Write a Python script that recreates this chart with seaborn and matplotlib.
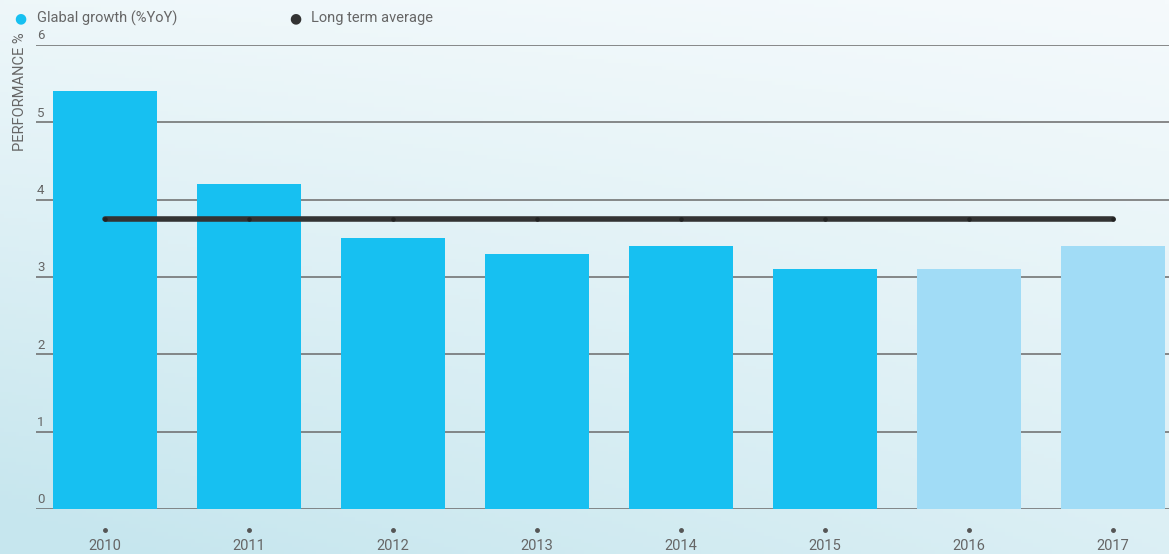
import numpy as np
import matplotlib
matplotlib.use("Agg")
import matplotlib.pyplot as plt
import seaborn as sns

years = ["2010", "2011", "2012", "2013", "2014", "2015", "2016", "2017"]
growth = [5.4, 4.2, 3.5, 3.3, 3.4, 3.1, 3.1, 3.4]
forecast = [False, False, False, False, False, False, True, True]
long_term_avg = 3.75
y_ticks = [0, 1, 2, 3, 4, 5, 6]

BLUE = "#17c0f1"
LIGHT = "#a1dcf6"
DARK = "#333333"
TXT = "#666666"

sns.set_theme(style="white")
plt.rcParams["font.family"] = ["Roboto", "DejaVu Sans"]

fig = plt.figure(figsize=(11.69, 5.54), dpi=100)

# background gradient
bg = fig.add_axes([0, 0, 1, 1], zorder=-10)
gx = np.linspace(0, 1, 300)
gy = np.linspace(0, 1, 150)
X, Y = np.meshgrid(gx, gy)
t = np.clip(0.55 * (1 - Y) + 0.35 * (1 - X) * (1 - Y) + 0.15 * (1 - X), 0, 1)
c1 = np.array([0xf5, 0xfa, 0xfc]) / 255
c2 = np.array([0xc6, 0xe6, 0xee]) / 255
img = c1[None, None, :] * (1 - t[..., None]) + c2[None, None, :] * t[..., None]
bg.imshow(img, aspect="auto", extent=[0, 1, 0, 1], origin="lower")
bg.axis("off")

ax = fig.add_axes([36 / 1169, 1 - 509 / 554, 1 - 36 / 1169, (509 - 45) / 554])
ax.patch.set_alpha(0)

palette = {y: (LIGHT if f else BLUE) for y, f in zip(years, forecast)}
sns.barplot(x=years, y=growth, hue=years, palette=palette, legend=False,
            width=0.72, saturation=1, linewidth=0, ax=ax, zorder=3)

xs = np.arange(len(years))
ax.plot(xs, [long_term_avg] * len(xs), color=DARK, lw=4.0,
        solid_capstyle="round", zorder=4)
ax.scatter(xs, [long_term_avg] * len(xs), s=5, color="#222222", zorder=5)

ax.set_ylim(0, 6)
ax.set_xlim(-0.479, 7.39)
for v in y_ticks:
    ax.axhline(v, color="#6a6a6a", lw=1.1, zorder=1)
    ax.text(0.001, v + 0.035, str(v), transform=ax.get_yaxis_transform(),
            ha="left", va="bottom", fontsize=9.5, color=TXT)
ax.set_yticks([])
ax.set_xticks(xs)
ax.set_xticklabels(years, fontsize=10.5, color=TXT)
ax.tick_params(axis="x", length=0, pad=26.5)
for lbl in ax.get_xticklabels():
    lbl.set_va("center")
for x in xs:
    ax.plot([x], [-0.27], marker="o", ms=2.5, color="#555555",
            clip_on=False, zorder=5)
for s in ax.spines.values():
    s.set_visible(False)
ax.set_xlabel("")
ax.set_ylabel("")

fig.text(20 / 1169, 1 - 92 / 554, "PERFORMANCE %", rotation=90, ha="center",
         va="center", fontsize=10.5, color=TXT)

# legend
fig.text(20 / 1169, 1 - 18 / 554, "●", color=BLUE, fontsize=10,
         ha="center", va="center", family="DejaVu Sans")
fig.text(37 / 1169, 1 - 18 / 554, "Glabal growth (%YoY)", color=TXT,
         fontsize=10.5, ha="left", va="center")
fig.text(295 / 1169, 1 - 18 / 554, "●", color=DARK, fontsize=10,
         ha="center", va="center", family="DejaVu Sans")
fig.text(311 / 1169, 1 - 18 / 554, "Long term average", color=TXT,
         fontsize=10.5, ha="left", va="center")

fig.savefig("out.png", dpi=100)
